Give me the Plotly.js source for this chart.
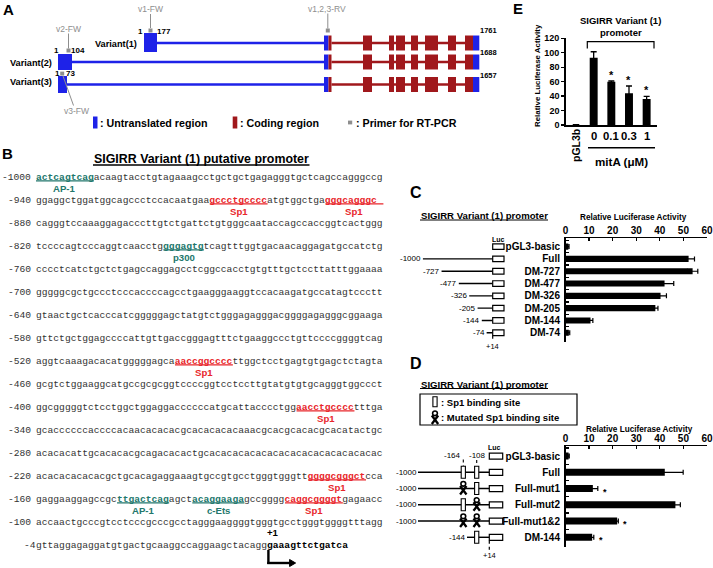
<!DOCTYPE html>
<html><head><meta charset="utf-8">
<script src="https://cdn.plot.ly/plotly-3.0.1.min.js"></script>
<style>html,body{margin:0;padding:0;background:#fff}</style>
</head><body><div id="chart" style="width:713px;height:568px"></div>
<script>
// ================= DATA =================
// Panel A
const aVariants = ["Variant(1)", "Variant(2)", "Variant(3)"];
const aLengths = [1761, 1688, 1657];
const aExon1End = [177, 104, 73];
const aPrimerNames = ["v1-FW", "v2-FW", "v3-FW", "v1,2,3-RV"];
const aLegend = [": Untranslated region", ": Coding region", ": Primer for RT-PCR"];

// Panel B
const seqPositions = [-1000,-940,-880,-820,-760,-700,-640,-580,-520,-460,-400,-340,-280,-220,-160,-100,-40];
const seqLines = [
 "actcagtcagacaagtacctgtagaaagcctgctgctgagagggtgctcagccagggccg",
 "ggaggctggatggcagccctccacaatgaagccctgccccatgtggctgagggcagggc",
 "cagggtccaaaggagacccttgtctgattctgtgggcaataccagccaccggtcactggg",
 "tccccagtcccaggtcaacctggggagtgtcagtttggtgacaacaggagatgccatctg",
 "cccctcatctgctctgagccaggagcctcggccacctgtgtttgctccttatttggaaaa",
 "gggggcgctgccctcccaccccagcctgaagggaaggtccacaagatgccatagtccctt",
 "gtaactgctcacccatcgggggagctatgtctgggagagggacggggagagggcggaaga",
 "gttctgctggagccccattgttgaccgggagtttctgaaggccctgttccccggggtcag",
 "aggtcaaagacacatgggggagcaaaccggccccttggctcctgagtgtgagctctagta",
 "gcgtctggaaggcatgccgcgcggtccccggtcctccttgtatgtgtgcagggtggccct",
 "ggcgggggtctcctggctggaggaccccccatgcattacccctggaacctgcccctttga",
 "gcaccccccaccccacaacacacacgcacacacacaaacgcacgcacacgcacatactgc",
 "acacacattgcacacacgcagacacactgcacacacacacacacacacacacacacacac",
 "acacacacacacgctgcacagaggaaagtgccgtgcctgggtgggttggggcgggctcca",
 "gaggaaggagccgcttgactcagagctacaggaagagccggggcaggcggggtgagaacc",
 "accaactgcccgtcctcccgcccgcctagggaaggggtgggtgcctgggtggggtttagg",
 "gttaggagaggatgtgactgcaaggccaggaagctacagg"
];
const seqTranscribed = "gaaagttctgatca"; // +1 .. +14
const siteLine  = [0, 1, 1, 3, 8, 10, 13, 14, 14, 14];
const siteStart = [0, 30, 50, 22, 24, 45, 47, 14, 27, 43];
const siteLen   = [10, 10, 10, 7, 10, 10, 10, 9, 9, 10];
const siteName  = ["AP-1","Sp1","Sp1","p300","Sp1","Sp1","Sp1","AP-1","c-Ets","Sp1"];

// Panel C
const cConstructs = ["pGL3-basic","Full","DM-727","DM-477","DM-326","DM-205","DM-144","DM-74"];
const cStart = [null, -1000, -727, -477, -326, -205, -144, -74];
const cActivity = [1.2, 52.2, 53.9, 42.0, 40.3, 38.1, 10.6, 1.4];
const cError = [0.3, 2.5, 2.2, 3.9, 2.5, 1.1, 1.0, 0.4];

// Panel D
const dConstructs = ["pGL3-basic","Full","Full-mut1","Full-mut2","Full-mut1&2","DM-144"];
const dStart = [null, -1000, -1000, -1000, -1000, -144];
const dSite164 = ["none","wt","mut","wt","mut","none"];
const dSite108 = ["none","wt","wt","mut","mut","wt"];
const dActivity = [1.3, 42.1, 11.6, 46.6, 21.9, 11.3];
const dError = [0.3, 7.8, 2.1, 2.1, 0.5, 0.7];
const dSig = [false, false, true, false, true, true];

// Panel E
const eCategories = ["pGL3b","0","0.1","0.3","1"];
const eActivity = [0.5, 93, 60, 44, 36];
const eError = [0, 8.4, 1, 10, 3.7];
const eSig = [false, false, true, true, true];

// ================= DRAWING =================
const SANS = 'Liberation Sans, Arial, sans-serif';
const MONO = 'Liberation Mono, Courier New, monospace';
const RED = '#e8262b', TEAL = '#22776c', BLUE = '#1e22e8', DRED = '#a0181c', GREY = '#8e8e8e';
const shapes = [], annotations = [];

function font(size, bold, color, fam){ return {family: fam || SANS, size: size, color: color || '#000', weight: bold ? 'bold' : 'normal'}; }
function txt(x, y, text, f, opt){
  annotations.push(Object.assign({xref:'x', yref:'y', x:x, y:y, text:text, showarrow:false,
    xanchor:'center', yanchor:'middle', borderpad:0, borderwidth:0, font:f}, opt || {}));
}
function rect(x0, y0, x1, y1, fill, lineColor, lw, refs){
  shapes.push(Object.assign({type:'rect', xref:'x', yref:'y', x0:x0, y0:y0, x1:x1, y1:y1,
    fillcolor:fill, line:{color:lineColor || fill, width: lw || 0}}, refs || {}));
}
function seg(x0, y0, x1, y1, color, w, dash, refs){
  shapes.push(Object.assign({type:'line', xref:'x', yref:'y', x0:x0, y0:y0, x1:x1, y1:y1,
    line:{color:color, width:w, dash:dash || 'solid'}}, refs || {}));
}
function path(d, color, w, fill){
  shapes.push({type:'path', xref:'x', yref:'y', path:d, line:{color:color, width:w}, fillcolor: fill || 'rgba(0,0,0,0)'});
}

// ---- panel letters ----
txt(3, 9, 'A', font(15, true), {xanchor:'left'});
txt(2, 153, 'B', font(15, true), {xanchor:'left'});
txt(410, 192, 'C', font(16, true), {xanchor:'left'});
txt(410, 363, 'D', font(16, true), {xanchor:'left'});
txt(513, 8, 'E', font(15, true), {xanchor:'left'});

// ---- Panel A ----
const aRowY = [43, 62, 84.5];
const aExon1 = [[144,157],[58,72],[58,67]];
const aExon1Span = [[33,52],[54,70],[76,93]];
const utr2 = [324, 328.5];
const coding = [[328.5,331.5],[363,372],[389,394],[396,405],[411,418],[425,438],[448,456],[465,473]];
const utrEnd = [473, 479.3];
aVariants.forEach((v, i) => {
  const y = aRowY[i];
  seg(aExon1[i][1], y, utr2[0], y, BLUE, 2.5);
  seg(coding[0][1], y, coding[coding.length-1][0], y, DRED, 2.5);
  rect(aExon1[i][0], aExon1Span[i][0], aExon1[i][1], aExon1Span[i][1], BLUE);
  rect(utr2[0], y - 7.5, utr2[1], y + 7.5, BLUE);
  coding.forEach(c => rect(c[0], y - 7.5, c[1], y + 7.5, DRED));
  rect(utrEnd[0], y - 7.5, utrEnd[1], y + 7.5, BLUE);
});
txt(116, 43.5, aVariants[0], font(9.2, true));
txt(31, 62.5, aVariants[1], font(9.2, true));
txt(31, 82, aVariants[2], font(9.2, true));
// exon-1 boundary numbers
txt(140, 31, '1', font(8, true));
txt(157, 31, String(aExon1End[0]), font(8, true), {xanchor:'left'});
txt(56, 50, '1', font(8, true));
txt(71, 50, String(aExon1End[1]), font(8, true), {xanchor:'left'});
txt(57.5, 73, '1', font(8, true));
txt(66, 73, String(aExon1End[2]), font(8, true), {xanchor:'left'});
// transcript lengths
txt(480, 30, String(aLengths[0]), font(7.5, true), {xanchor:'left'});
txt(480, 52, String(aLengths[1]), font(7.5, true), {xanchor:'left'});
txt(480, 75, String(aLengths[2]), font(7.5, true), {xanchor:'left'});
// primer leader lines and labels
seg(150.5, 14, 150.5, 28, GREY, 1);
seg(68.5, 33.5, 68.5, 48.5, GREY, 1);
seg(63, 76, 73.5, 105.5, GREY, 1);
seg(327.8, 13.5, 327.8, 28.5, GREY, 1);
txt(150, 9, aPrimerNames[0], font(8.5, false, GREY));
txt(68.5, 28.5, aPrimerNames[1], font(8.5, false, GREY));
txt(76.5, 111, aPrimerNames[2], font(8.5, false, GREY));
txt(326.7, 8.5, aPrimerNames[3], font(8.5, false, GREY));
// legend
rect(93, 116.5, 97.5, 128.5, BLUE);
txt(100, 122.5, aLegend[0], font(10.7, true), {xanchor:'left'});
rect(232.7, 116.5, 237.3, 128.5, DRED);
txt(240, 122.5, aLegend[1], font(10.7, true), {xanchor:'left'});
rect(348, 120.6, 352.2, 124.4, GREY);
txt(355.5, 122.5, aLegend[2], font(10.7, true), {xanchor:'left'});

// ---- Panel B ----
txt(201, 158.5, 'SIGIRR Variant (1) putative promoter', font(12.4, true));
seg(93, 165, 309.5, 165, '#000', 1.3);
const X0 = 36, CW = 5.79, FS = 9.65, ROW0 = 177, ROWH = 23;
seqLines.forEach((s, i) => {
  const y = ROW0 + ROWH * i;
  const idx = [];
  siteLine.forEach((l, k) => { if (l === i) idx.push(k); });
  idx.sort((a, b) => siteStart[a] - siteStart[b]);
  let html = '', p = 0;
  idx.forEach(k => {
    const col = siteName[k] === 'Sp1' ? RED : TEAL;
    html += s.slice(p, siteStart[k]);
    html += '<b><span style="color:' + col + '">' + s.slice(siteStart[k], siteStart[k] + siteLen[k]) + '</span></b>';
    p = siteStart[k] + siteLen[k];
    const xa = X0 + siteStart[k] * CW, xb = X0 + (siteStart[k] + siteLen[k]) * CW;
    seg(xa, y + 3.9, xb, y + 3.9, col, 1.3);
    txt((xa + xb) / 2, y + 11.8, siteName[k], font(9.6, true, col));
  });
  html += s.slice(p);
  const last = i === seqLines.length - 1;
  if (last) html += '<b><span style="color:#000">' + seqTranscribed + '</span></b>';
  txt(X0, y, html, font(FS, false, '#333', MONO), {xanchor:'left'});
  const lab = last ? String(seqPositions[i]).slice(0, 2) : String(seqPositions[i]);
  txt(last ? X0 : 30.5, y, lab, font(FS, false, '#333', MONO), {xanchor:'right'});
  if (last) {
    const xs = X0 + s.length * CW;
    txt(xs + 5, y - 12.5, '+1', font(9.6, true));
    seg(xs + 0.8, y + 5, xs + 0.8, y + 19, '#000', 2.4);
    seg(xs - 0.4, y + 18, xs + 23, y + 18, '#000', 2.4);
    path('M ' + (xs + 22) + ' ' + (y + 14.5) + ' L ' + (xs + 28) + ' ' + (y + 18) + ' L ' + (xs + 22) + ' ' + (y + 21.5) + ' Z', '#000', 1, '#000');
  }
});

// ---- Panel C ----
txt(484, 215, 'SIGIRR Variant (1) promoter', font(9.6, true));
seg(420, 220, 548, 220, '#000', 1);
txt(633.5, 217, 'Relative Luciferase Activity', font(8.2, true));
const cTop = 238, cBot = 342, cR0 = -0.7, cR1 = 7.75;
const yC = i => cTop + (i - cR0) * (cBot - cTop) / (cR1 - cR0);
txt(498, 239.5, 'Luc', font(7, true));
cConstructs.forEach((c, i) => {
  const y = yC(i);
  if (cStart[i] !== null) {
    seg(cStart[i], y, 14, y, '#000', 1.4, 'solid', {xref:'x2'});
    txt(cStart[i], y, String(cStart[i]), font(8, false), {xref:'x2', xanchor:'right', xshift:-1.5});
  }
  rect(492.7, y - 2.8, 504, y + 2.8, '#fff', '#000', 1.2);
});
seg(492.7, yC(7) + 3, 492.7, 340.5, '#000', 1.2, 'dot');
txt(492.5, 346.7, '+14', font(7.5, false));

// ---- Panel D ----
txt(484, 384, 'SIGIRR Variant (1) promoter', font(9.6, true));
seg(420, 388.5, 548, 388.5, '#000', 1);
rect(420, 394, 577, 425, 'rgba(0,0,0,0)', '#000', 1.2);
function sp1Box(x, y, h){ rect(x - 2.1, y - h, x + 2.1, y + h, '#fff', '#000', 1.1); }
function sp1Mut(x, y){
  path('M ' + (x - 3.2) + ' ' + (y - 2.5) + ' L ' + (x + 3.2) + ' ' + (y + 6) + ' M ' + (x + 3.2) + ' ' + (y - 2.5) + ' L ' + (x - 3.2) + ' ' + (y + 6), '#000', 2.3);
  shapes.push({type:'circle', xref:'x', yref:'y', x0:x - 2.4, x1:x + 2.4, y0:y - 7, y1:y - 2.4, line:{color:'#000', width:1.6}, fillcolor:'#fff'});
}
sp1Box(435, 401.7, 5);
txt(441, 402.5, ': Sp1 binding site', font(9.5, true), {xanchor:'left'});
sp1Mut(435, 418);
txt(441, 417, ': Mutated Sp1 binding site', font(9.5, true), {xanchor:'left'});
txt(639, 429.5, 'Relative Luciferase Activity', font(8.2, true));
const dTop = 446, dBot = 546.7, dR0 = -0.62, dR1 = 5.58;
const yD = i => dTop + (i - dR0) * (dBot - dTop) / (dR1 - dR0);
const xS164 = 463.3, xS108 = 476.7, xLuc = 489.3, xFull = 418, xDM144 = 467;
txt(494.5, 447.5, 'Luc', font(7, true));
txt(461, 455, '-164', font(8, false), {xanchor:'right'});
txt(477.5, 455, '-108', font(8, false));
seg(xS164, 459.5, xS164, yD(1) - 6, '#000', 1.1, 'dot');
seg(xS108, 460, xS108, yD(1) - 6, '#000', 1.1, 'dot');
dConstructs.forEach((c, i) => {
  const y = yD(i);
  if (dStart[i] !== null) {
    const x0 = dStart[i] === -1000 ? xFull : xDM144;
    seg(x0, y, xLuc, y, '#000', 1.4);
    txt(x0 - 1.5, y, String(dStart[i]), font(8, false), {xanchor:'right'});
  }
  if (dSite164[i] === 'wt') sp1Box(xS164, y, 6);
  if (dSite164[i] === 'mut') sp1Mut(xS164, y);
  if (dSite108[i] === 'wt') sp1Box(xS108, y, 6);
  if (dSite108[i] === 'mut') sp1Mut(xS108, y);
  rect(xLuc, y - 3, xLuc + 13.4, y + 3, '#fff', '#000', 1.2);
});
seg(xLuc, yD(5) + 3.5, xLuc, 550, '#000', 1.2, 'dot');
txt(489.7, 555.5, '+14', font(7.5, false));

// D significance stars
dSig.forEach((s, i) => { if (s) annotations.push({xref:'x4', yref:'y4', x:dActivity[i] + dError[i], y:i, text:'*', showarrow:false,
  xanchor:'left', yanchor:'middle', xshift:3, yshift:-3, font:font(9, true)}); });

// ---- Panel E ----
txt(620.7, 20.5, 'SIGIRR Variant (1)', font(9.5, true));
txt(620.7, 32, 'promoter', font(9.5, true));
txt(537, 76, 'Relative Luciferase Activity', font(7.9, true), {textangle:-90});
path('M 587.3 48.5 L 587.3 41.7 L 654 41.7 L 654 48.5', '#000', 1.2);
eCategories.forEach((c, i) => {
  if (i === 0) annotations.push({xref:'x5', yref:'y', x:i, y:146, text:c, showarrow:false, textangle:-90, font:font(10.5, true), borderpad:0, borderwidth:0});
  else annotations.push({xref:'x5', yref:'y', x:i, y:136, text:c, showarrow:false, font:font(11.3, true), borderpad:0, borderwidth:0});
  if (eSig[i]) annotations.push({xref:'x5', yref:'y5', x:i, y:eActivity[i] + eError[i], text:'*', showarrow:false,
    yanchor:'middle', yshift:6, font:font(11, true), borderpad:0, borderwidth:0});
});
seg(588, 147.7, 655, 147.7, '#000', 1.5);
txt(621.7, 161.7, 'mitA (μM)', font(11.6, true));

// ================= TRACES =================
const traces = [
  {type:'scatter', mode:'markers', xaxis:'x', yaxis:'y', x:[150.5, 68.5, 62.2, 327.8], y:[30.5, 50.5, 73.6, 30.5],
   text:aPrimerNames, hoverinfo:'text', marker:{symbol:'square', size:4, color:GREY}},
  {type:'bar', orientation:'h', xaxis:'x3', yaxis:'y3', x:cActivity, y:cConstructs, width:0.5,
   marker:{color:'#000', line:{width:0}}, error_x:{type:'data', array:cError, visible:true, color:'#000', thickness:1.2, width:2.5}},
  {type:'bar', orientation:'h', xaxis:'x4', yaxis:'y4', x:dActivity, y:dConstructs, width:0.43,
   marker:{color:'#000', line:{width:0}}, error_x:{type:'data', array:dError, visible:true, color:'#000', thickness:1.2, width:2.5}},
  {type:'bar', xaxis:'x5', yaxis:'y5', x:eCategories, y:eActivity, width:0.45,
   marker:{color:'#000', line:{width:0}}, error_y:{type:'data', array:eError, visible:true, color:'#000', thickness:1.3, width:3}}
];

const W = 713, H = 568;
const fx = px => px / W, fy = py => 1 - py / H;
const barX = (anchor) => ({domain:[fx(565.5), fx(707)], range:[0, 60], dtick:10, side:'top', anchor:anchor,
  showline:true, linewidth:1.5, linecolor:'#000', ticks:'inside', ticklen:3, tickwidth:1.3, tickcolor:'#000',
  ticklabelstandoff:-1, showgrid:false, zeroline:false, tickfont:font(10, true), fixedrange:true});
const barY = (anchor, top, bot, r0, r1) => ({domain:[fy(bot), fy(top)], type:'category', range:[r1, r0], anchor:anchor,
  showline:true, linewidth:1.5, linecolor:'#000', ticks:'inside', ticklen:3, tickwidth:1.2, tickcolor:'#000',
  tickson:'boundaries', showgrid:false, zeroline:false, tickfont:font(10, true), ticklabelstandoff:2, fixedrange:true});

const layout = {
  width:W, height:H, margin:{l:0, r:0, t:0, b:0}, paper_bgcolor:'#fff', plot_bgcolor:'rgba(0,0,0,0)',
  showlegend:false, font:{family:SANS}, hovermode:false,
  xaxis:{domain:[0, 1], range:[0, W], visible:false, fixedrange:true, anchor:'y'},
  yaxis:{domain:[0, 1], range:[H, 0], visible:false, fixedrange:true, anchor:'x'},
  xaxis2:{domain:[fx(422.7), fx(492.7)], range:[-1000, 14], visible:false, fixedrange:true, anchor:'y'},
  xaxis3:barX('y3'),
  yaxis3:barY('x3', cTop, cBot, cR0, cR1),
  xaxis4:barX('y4'),
  yaxis4:barY('x4', dTop, dBot, dR0, dR1),
  xaxis5:{domain:[fx(565.7), fx(656.7)], type:'category', range:[-0.585, 4.57], anchor:'y5',
    showline:true, linewidth:1.5, linecolor:'#000', ticks:'', showticklabels:false, showgrid:false, zeroline:false, fixedrange:true},
  yaxis5:{domain:[fy(125), fy(38.3)], range:[0, 120], dtick:20, anchor:'x5', showline:true, linewidth:1.5, linecolor:'#000',
    ticks:'outside', ticklen:3, tickwidth:1.3, tickcolor:'#000', showgrid:false, zeroline:false, tickfont:font(9, true), fixedrange:true},
  shapes:shapes, annotations:annotations
};
Plotly.newPlot('chart', traces, layout, {staticPlot:true, displayModeBar:false});
</script></body></html>
